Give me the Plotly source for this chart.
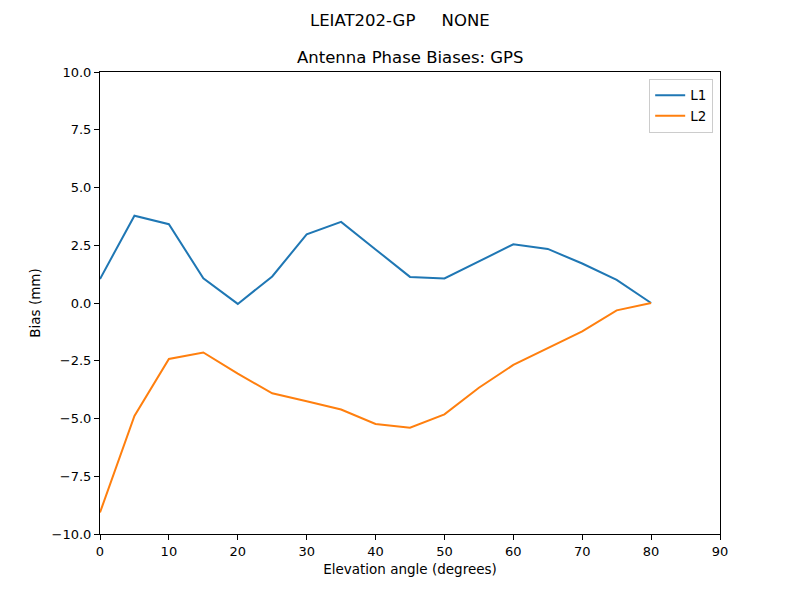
import plotly.graph_objects as go

elevation = [0, 5, 10, 15, 20, 25, 30, 35, 40, 45, 50, 55, 60, 65, 70, 75, 80]
l1_bias = [1.04, 3.78, 3.41, 1.07, -0.04, 1.15, 2.97, 3.51, 2.32, 1.13, 1.06, 1.8, 2.54, 2.34, 1.71, 1.0, 0.0]
l2_bias = [-9.07, -4.89, -2.42, -2.14, -3.06, -3.91, -4.25, -4.61, -5.24, -5.4, -4.82, -3.67, -2.68, -1.94, -1.23, -0.32, 0.0]
x_ticks = [0, 10, 20, 30, 40, 50, 60, 70, 80, 90]
y_ticks = [-10, -7.5, -5, -2.5, 0, 2.5, 5, 7.5, 10]
y_tick_labels = ["\u221210.0", "\u22127.5", "\u22125.0", "\u22122.5", "0.0", "2.5", "5.0", "7.5", "10.0"]

font = "DejaVu Sans, sans-serif"

fig = go.Figure()
fig.add_trace(go.Scatter(x=elevation, y=l1_bias, mode="lines", name="L1",
                         line=dict(color="#1f77b4", width=2)))
fig.add_trace(go.Scatter(x=elevation, y=l2_bias, mode="lines", name="L2",
                         line=dict(color="#ff7f0e", width=2)))

axis_common = dict(showgrid=False, zeroline=False, showline=True, linecolor="black",
                   linewidth=1, mirror=True, ticks="outside", ticklen=5, tickwidth=1,
                   tickcolor="black", tickfont=dict(family=font, size=13, color="black"))

fig.update_layout(
    width=800, height=600,
    paper_bgcolor="white", plot_bgcolor="white",
    margin=dict(l=92, r=88, t=64, b=74),
    font=dict(family=font, color="black"),
    xaxis=dict(range=[0, 90], tickvals=x_ticks,
               title=dict(text="Elevation angle (degrees)", font=dict(family=font, size=13.5), standoff=6),
               **axis_common),
    yaxis=dict(range=[-10, 10], tickvals=y_ticks, ticktext=y_tick_labels,
               title=dict(text="Bias (mm)", font=dict(family=font, size=13.5), standoff=7),
               **axis_common),
    legend=dict(x=0.989, y=0.985, xanchor="right", yanchor="top",
                bgcolor="rgba(255,255,255,0.8)", bordercolor="#cccccc", borderwidth=1,
                tracegroupgap=0, itemwidth=30, font=dict(family=font, size=13.5)),
    annotations=[
        dict(text="LEIAT202-GP     NONE", xref="paper", yref="paper", x=(392 - 92) / 620, y=1,
             xanchor="center", yanchor="middle", yshift=52, showarrow=False,
             font=dict(family=font, size=16.5)),
        dict(text="Antenna Phase Biases: GPS", xref="paper", yref="paper", x=0.5, y=1,
             xanchor="center", yanchor="bottom", yshift=3, showarrow=False,
             font=dict(family=font, size=16.5)),
    ],
)

fig.write_html("out.html")
